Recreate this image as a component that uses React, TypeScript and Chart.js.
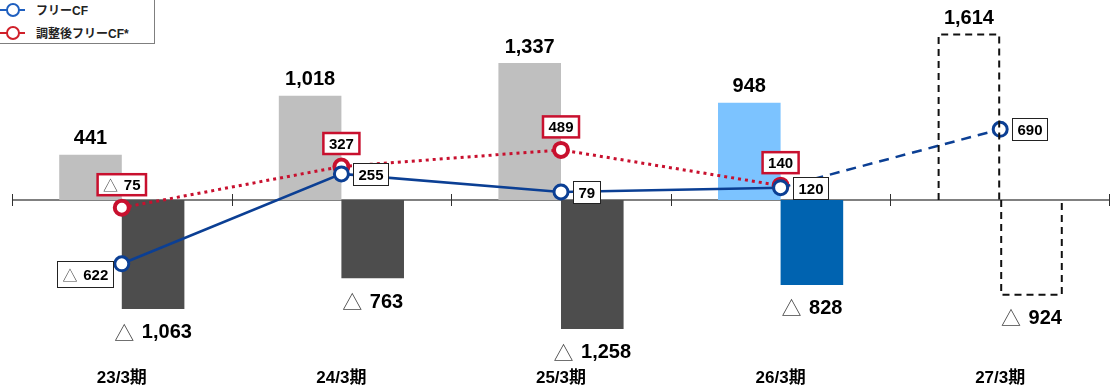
import React, { useEffect, useRef } from 'react';
import { Chart, registerables } from 'chart.js';

Chart.register(...registerables);

const categories = ['23/3期', '24/3期', '25/3期', '26/3期', '27/3期'];
const operatingCF = [441, 1018, 1337, 948, 1614];
const investingCF = [-1063, -763, -1258, -828, -924];
const freeCF = [-622, 255, 79, 120, 690];
const adjustedFreeCF: (number | null)[] = [-75, 327, 489, 140, null];

const FONT = "'Liberation Sans', Arial, 'Noto Sans CJK JP', sans-serif";
const TRI_FONT = "'Noto Sans CJK JP', 'DejaVu Sans', sans-serif";
const BLUE = '#0B3F94';
const RED = '#C8102E';

const posColors = ['#BFBFBF', '#BFBFBF', '#BFBFBF', '#7CC3FF', 'rgba(0,0,0,0)'];
const negColors = ['#4D4D4D', '#4D4D4D', '#4D4D4D', '#0063B0', 'rgba(0,0,0,0)'];

const fmt = (v: number) => Math.abs(v).toLocaleString('en-US');

function parts(ctx: CanvasRenderingContext2D, v: number, size: number) {
  let triW = 0;
  let gap = 0;
  if (v < 0) {
    ctx.font = `${size}px ${TRI_FONT}`;
    triW = ctx.measureText('△').width;
    gap = size * 0.38;
  }
  ctx.font = `bold ${size}px ${FONT}`;
  const numW = ctx.measureText(fmt(v)).width;
  return { triW, gap, numW, total: triW + gap + numW };
}

// draws "△ 1,234" with a thin triangle and bold digits
function drawValue(ctx: CanvasRenderingContext2D, v: number, x: number, y: number, size: number, align: 'center' | 'left') {
  const p = parts(ctx, v, size);
  ctx.textBaseline = 'middle';
  ctx.textAlign = 'left';
  const sx = align === 'center' ? x - p.total / 2 : x;
  if (v < 0) {
    ctx.font = `${size}px ${TRI_FONT}`;
    ctx.fillStyle = '#444';
    ctx.fillText('△', sx, y);
  }
  ctx.font = `bold ${size}px ${FONT}`;
  ctx.fillStyle = '#000';
  ctx.fillText(fmt(v), sx + p.triW + p.gap, y);
}

const overlayPlugin = {
  id: 'overlay',
  beforeDatasetsDraw(chart: any) {
    const { ctx, chartArea, scales } = chart;
    const y0 = Math.round(scales.y.getPixelForValue(0));
    ctx.save();
    ctx.strokeStyle = '#808080';
    ctx.lineWidth = 2;
    ctx.beginPath();
    ctx.moveTo(chartArea.left, y0);
    ctx.lineTo(chartArea.right, y0);
    ctx.stroke();
    ctx.strokeStyle = '#303030';
    ctx.lineWidth = 1;
    const n = categories.length;
    for (let i = 0; i <= n; i++) {
      let x;
      if (i === 0) x = chartArea.left;
      else if (i === n) x = chartArea.right - 1;
      else x = (scales.x.getPixelForValue(i - 1) + scales.x.getPixelForValue(i)) / 2;
      const xr = Math.round(x) + 0.5;
      ctx.beginPath();
      ctx.moveTo(xr, y0 - 6);
      ctx.lineTo(xr, y0 + 6);
      ctx.stroke();
    }
    ctx.restore();
  },
  afterDatasetsDraw(chart: any) {
    const { ctx } = chart;
    ctx.save();
    // dashed outline bars for the forecast year
    [0, 1].forEach((di) => {
      const meta = chart.getDatasetMeta(di);
      const el = meta.data[4];
      if (!el) return;
      const { x, y, base, width } = el.getProps(['x', 'y', 'base', 'width'], true);
      ctx.setLineDash([7, 5]);
      ctx.strokeStyle = '#111';
      ctx.lineWidth = 2;
      const left = x - width / 2 + 1;
      const right = x + width / 2 - 1;
      ctx.beginPath();
      ctx.moveTo(left, base);
      ctx.lineTo(left, y);
      ctx.lineTo(right, y);
      ctx.lineTo(right, base);
      ctx.stroke();
    });
    ctx.setLineDash([]);

    // bar value labels
    const m0 = chart.getDatasetMeta(0);
    m0.data.forEach((el: any, i: number) => {
      drawValue(ctx, operatingCF[i], el.x, el.y - 16, 20, 'center');
    });
    const m1 = chart.getDatasetMeta(1);
    m1.data.forEach((el: any, i: number) => {
      drawValue(ctx, investingCF[i], el.x, el.y + 24, 20, 'center');
    });

    // adjusted free CF labels (red boxes above point)
    const mr = chart.getDatasetMeta(3);
    mr.data.forEach((el: any, i: number) => {
      const v = adjustedFreeCF[i];
      if (v === null || v === undefined || el.skip) return;
      const p = parts(ctx, v, 15);
      const w = p.total + 11;
      const h = 21;
      const cx = el.x;
      const cy = el.y - 23;
      ctx.fillStyle = '#fff';
      ctx.fillRect(cx - w / 2, cy - h / 2, w, h);
      ctx.strokeStyle = RED;
      ctx.lineWidth = 2.5;
      ctx.strokeRect(cx - w / 2, cy - h / 2, w, h);
      drawValue(ctx, v, cx - w / 2 + 5.5, cy + 1, 15, 'left');
    });

    // free CF labels (black boxes beside point)
    const mb = chart.getDatasetMeta(2);
    mb.data.forEach((el: any, i: number) => {
      const v = freeCF[i];
      const p = parts(ctx, v, 15);
      const w = Math.round(p.total + 10);
      const h = v < 0 ? 26 : 22;
      let left;
      let cy;
      if (i === 0) {
        left = el.x - 9 - w;
        cy = el.y + 10;
      } else {
        left = el.x + 12;
        cy = el.y;
      }
      const lx = Math.round(left) + 0.5;
      const ty = Math.round(cy - h / 2) + 0.5;
      ctx.fillStyle = '#fff';
      ctx.fillRect(lx, ty, w, h);
      ctx.strokeStyle = '#222';
      ctx.lineWidth = 1;
      ctx.strokeRect(lx, ty, w, h);
      drawValue(ctx, v, lx + 5, ty + h / 2 + 1, 15, 'left');
    });
    ctx.restore();
  },
};

function LegendItem({ color, label, top }: { color: string; label: string; top: number }) {
  return (
    <div style={{ position: 'absolute', left: 0, top, height: 18, width: 150 }}>
      <div style={{ position: 'absolute', left: 0, top: 8, width: 25, height: 2, background: color }} />
      <div
        style={{
          position: 'absolute',
          left: 6,
          top: 2,
          width: 10,
          height: 10,
          borderRadius: '50%',
          border: `2px solid ${color}`,
          background: '#fff',
        }}
      />
      <div
        style={{
          position: 'absolute',
          left: 36,
          top: 0,
          fontFamily: FONT,
          fontWeight: 'bold',
          fontSize: 12,
          color: '#222',
          whiteSpace: 'nowrap',
        }}
      >
        {label}
      </div>
    </div>
  );
}

export default function App() {
  const canvasRef = useRef<HTMLCanvasElement | null>(null);

  useEffect(() => {
    const canvas = canvasRef.current;
    if (!canvas) return;
    const chart = new Chart(canvas, {
      type: 'bar',
      data: {
        labels: categories,
        datasets: [
          {
            type: 'bar',
            label: '営業CF',
            data: operatingCF,
            backgroundColor: posColors,
            categoryPercentage: 0.57,
            barPercentage: 1.0,
            order: 2,
          },
          {
            type: 'bar',
            label: '投資CF',
            data: investingCF,
            backgroundColor: negColors,
            categoryPercentage: 0.57,
            barPercentage: 1.0,
            order: 3,
          },
          {
            type: 'line',
            label: 'フリーCF',
            data: freeCF,
            borderColor: BLUE,
            borderWidth: 2.5,
            pointRadius: 7,
            pointBorderWidth: 3,
            pointBackgroundColor: '#fff',
            pointBorderColor: BLUE,
            tension: 0,
            segment: {
              borderDash: (c: any) => (c.p1DataIndex === 4 ? [10, 7] : undefined),
            },
            order: 0,
          } as any,
          {
            type: 'line',
            label: '調整後フリーCF*',
            data: adjustedFreeCF,
            borderColor: RED,
            borderWidth: 3,
            borderDash: [3, 4],
            pointRadius: 7,
            pointBorderWidth: 4,
            pointBackgroundColor: '#fff',
            pointBorderColor: RED,
            tension: 0,
            spanGaps: false,
            order: 1,
          } as any,
        ],
      },
      options: {
        responsive: false,
        animation: false,
        layout: { autoPadding: false, padding: { left: 12, right: 3, top: 10, bottom: 0 } },
        plugins: {
          legend: { display: false },
          tooltip: { enabled: false },
        },
        scales: {
          x: {
            grid: { display: false, drawTicks: false },
            border: { display: false },
            ticks: {
              color: '#000',
              padding: 0,
              font: { family: FONT, size: 17, weight: 'bold', lineHeight: 1.2 },
            },
            afterFit: (scale: any) => {
              scale.height = 19;
            },
          },
          y: {
            display: false,
            min: -1639,
            max: 1854,
          },
        },
      },
      plugins: [overlayPlugin],
    });
    return () => chart.destroy();
  }, []);

  return (
    <div style={{ position: 'fixed', left: 0, top: 0, width: 1113, height: 387, background: '#fff' }}>
      <canvas ref={canvasRef} width={1113} height={387} style={{ display: 'block' }} />
      <div
        style={{
          position: 'absolute',
          left: 0,
          top: 0,
          width: 155,
          height: 44,
          borderRight: '1px solid #7f7f7f',
          borderBottom: '1px solid #7f7f7f',
          boxSizing: 'border-box',
          background: '#fff',
        }}
      >
        <LegendItem color="#1F5FBF" label="フリーCF" top={1} />
        <LegendItem color="#D0202A" label="調整後フリーCF*" top={24} />
      </div>
    </div>
  );
}
